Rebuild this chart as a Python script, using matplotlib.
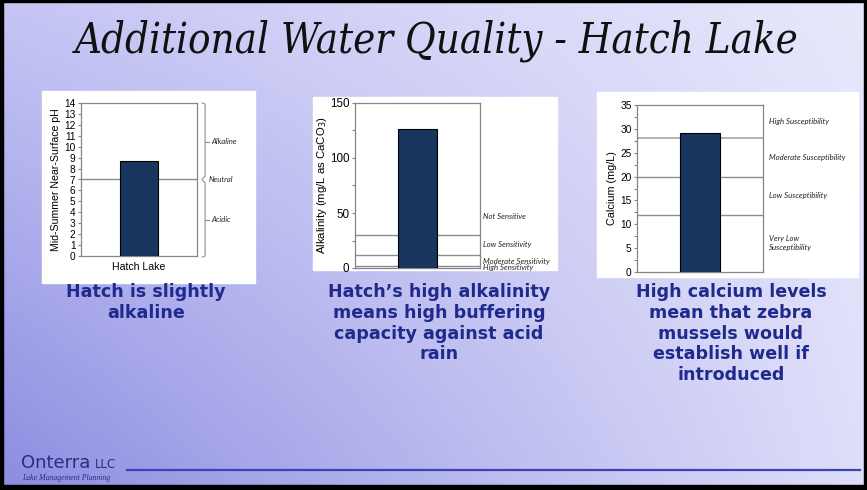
import numpy as np
import matplotlib
matplotlib.use("Agg")
import matplotlib.pyplot as plt
from matplotlib.patches import Rectangle
from matplotlib.transforms import blended_transform_factory
from matplotlib.ticker import MultipleLocator

# ---- data ----
lake = ["Hatch Lake"]
ph_value = [8.7]
ph_neutral = 7
alk_value = [126]
alk_breaks = [30, 12, 2]
alk_classes = ["Not Sensitive", "Low Sensitivity", "Moderate Sensitivity", "High Sensitivity"]
alk_label_y = [47, 21, 6, 0.5]
ca_value = [29.2]
ca_breaks = [28, 20, 12]
ca_classes = ["High Susceptibility", "Moderate Susceptibility", "Low Susceptibility",
              "Very Low\nSusceptibility"]
ca_label_y = [31.6, 24, 16, 6]
captions = ["Hatch is slightly\nalkaline",
            "Hatch\u2019s high alkalinity\nmeans high buffering\ncapacity against acid\nrain",
            "High calcium levels\nmean that zebra\nmussels would\nestablish well if\nintroduced"]
title = "Additional Water Quality - Hatch Lake"

W, H = 867, 490
fig = plt.figure(figsize=(W / 100, H / 100), dpi=100)


def fx(px):
    return px / W


def fy(py):
    return 1 - py / H


def axes_box(l, t, r, b):
    return [fx(l), fy(b), fx(r) - fx(l), fy(t) - fy(b)]


# slide background gradient
bg = fig.add_axes([0, 0, 1, 1], zorder=-10)
gx = np.linspace(0, 1, 300)[None, :, None]
gy = np.linspace(0, 1, 200)[:, None, None]
tl = np.array([198, 198, 245]) / 255
tr = np.array([232, 232, 252]) / 255
bl = np.array([140, 140, 225]) / 255
br = np.array([222, 222, 250]) / 255
img = (1 - gy) * ((1 - gx) * tl + gx * tr) + gy * ((1 - gx) * bl + gx * br)
bg.imshow(img, aspect="auto", extent=[0, 1, 0, 1], origin="upper")
bg.set_xlim(0, 1)
bg.set_ylim(0, 1)
bg.axis("off")

# slide frame
for rect in [(0, 0, 3, H), (0, 0, W, 2), (W - 3, 0, 3, H), (0, 485, W, 5)]:
    x, y, w, h = rect
    fig.patches.append(Rectangle((fx(x), fy(y + h)), w / W, h / H, transform=fig.transFigure,
                                 color="black", zorder=-5))

# white chart panels
for (l, t, r, b) in [(42, 91, 255, 283), (313, 97, 557, 270), (597, 92, 858, 277)]:
    fig.patches.append(Rectangle((fx(l), fy(b)), fx(r) - fx(l), fy(t) - fy(b),
                                 transform=fig.transFigure, color="white", zorder=-4))

# title
fig.text(fx(437), fy(41), title, ha="center", va="center", fontsize=30,
         family="DejaVu Serif", fontstretch="condensed", style="italic",
         color="#111111")

tick_font = "Liberation Sans"
note_font = "Lato"
bar_color = "#17375E"
spine_color = "#868686"
line_color = "#8C8C8C"


def style_axes(ax):
    for s in ax.spines.values():
        s.set_color(spine_color)
        s.set_linewidth(0.9)
    ax.tick_params(axis="y", which="both", direction="out", color=spine_color, length=2.5,
                   width=0.8, pad=1.5, labelsize=7.3)
    ax.tick_params(axis="y", which="minor", length=2)
    ax.tick_params(axis="x", length=0)
    for lab in ax.get_yticklabels():
        lab.set_family(tick_font)


# ---- pH panel ----
ax1 = fig.add_axes(axes_box(81, 103, 197, 256))
ax1.bar(lake, ph_value, width=0.32, color=bar_color, edgecolor="black", linewidth=0.8, zorder=3)
ax1.axhline(ph_neutral, color=line_color, lw=1.0, zorder=2)
ax1.set_xlim(-0.5, 0.5)
ax1.set_ylim(0, 14)
ax1.yaxis.set_major_locator(MultipleLocator(1))
ax1.set_ylabel("Mid-Summer Near-Surface pH", family=tick_font, fontsize=7.6, labelpad=2)
style_axes(ax1)
ax1.tick_params(axis="x", labelsize=7.6, pad=4)
for lab in ax1.get_xticklabels():
    lab.set_family(tick_font)

tr1 = blended_transform_factory(ax1.transAxes, ax1.transData)
bx0, bx1, bx2 = 1.045, 1.07, 1.10
br_kw = dict(color="#909090", lw=0.8, transform=tr1, clip_on=False)
ax1.plot([bx0, bx1, bx1, bx0], [14, 13.9, 7.3, 7.05], **br_kw)
ax1.plot([bx1, bx2], [10.45, 10.45], **br_kw)
ax1.plot([bx0, bx1, bx1, bx0], [6.95, 6.7, 0.0, -0.1], **br_kw)
ax1.plot([bx1, bx2], [3.3, 3.3], **br_kw)
note_kw = dict(family=note_font, style="italic", fontsize=5.6, color="#222222",
               va="center", ha="left", transform=tr1, clip_on=False)
ax1.text(bx2 + 0.02, 10.45, "Alkaline", **note_kw)
ax1.text(1.1, 7.0, "Neutral", **note_kw)
ax1.text(bx2 + 0.02, 3.3, "Acidic", **note_kw)

# ---- alkalinity panel ----
ax2 = fig.add_axes(axes_box(355, 103, 480, 268))
ax2.bar([0], alk_value, width=0.31, color=bar_color, edgecolor="black", linewidth=0.8, zorder=3)
for v in alk_breaks:
    ax2.axhline(v, color=line_color, lw=1.0, zorder=2)
ax2.set_xlim(-0.5, 0.5)
ax2.set_ylim(0, 150)
ax2.set_xticks([])
ax2.yaxis.set_major_locator(MultipleLocator(50))
ax2.yaxis.set_minor_locator(MultipleLocator(25))
ax2.set_ylabel("Alkalinity (mg/L as CaCO$_3$)", family=tick_font, fontsize=8.2, labelpad=1)
style_axes(ax2)
ax2.tick_params(axis="y", labelsize=8.4)
tr2 = blended_transform_factory(ax2.transAxes, ax2.transData)
for txt, yv in zip(alk_classes, alk_label_y):
    ax2.text(1.025, yv, txt, **{**note_kw, "transform": tr2})

# ---- calcium panel ----
ax3 = fig.add_axes(axes_box(637, 105, 763, 272))
ax3.bar([0], ca_value, width=0.32, color=bar_color, edgecolor="black", linewidth=0.8, zorder=3)
ax3.axhline(ca_breaks[0], color="#B4B4B4", lw=1.4, zorder=2)
for v in ca_breaks[1:]:
    ax3.axhline(v, color=line_color, lw=1.0, zorder=2)
ax3.set_xlim(-0.5, 0.5)
ax3.set_ylim(0, 35)
ax3.set_xticks([])
ax3.yaxis.set_major_locator(MultipleLocator(5))
ax3.yaxis.set_minor_locator(MultipleLocator(2.5))
ax3.set_ylabel("Calcium (mg/L)", family=tick_font, fontsize=7.8, labelpad=2)
style_axes(ax3)
tr3 = blended_transform_factory(ax3.transAxes, ax3.transData)
for txt, yv in zip(ca_classes, ca_label_y):
    ax3.text(1.05, yv, txt, linespacing=1.3, **{**note_kw, "transform": tr3})

# ---- captions ----
cap_kw = dict(ha="center", va="top", family="DejaVu Sans", weight="bold", fontsize=12.6,
              color="#1F2A8C", linespacing=1.2)
fig.text(fx(146), fy(283), captions[0], **cap_kw)
fig.text(fx(439), fy(283), captions[1], **cap_kw)
fig.text(fx(731), fy(283), captions[2], **cap_kw)

# ---- footer ----
fig.text(fx(21), fy(468), "Onterra", family="DejaVu Sans", fontsize=13, color="#26307F",
         ha="left", va="baseline")
fig.text(fx(95), fy(468), "LLC", family="DejaVu Sans", fontsize=8.5, color="#26307F",
         ha="left", va="baseline")
fig.text(fx(22), fy(480), "Lake Management Planning", family="Liberation Serif",
         style="italic", fontsize=5.6, color="#26307F", ha="left", va="baseline")
fig.add_artist(plt.Line2D([fx(127), fx(860)], [fy(470), fy(470)], transform=fig.transFigure,
                          color="#3A44B4", lw=1.6))

fig.savefig("out.png", dpi=100)
